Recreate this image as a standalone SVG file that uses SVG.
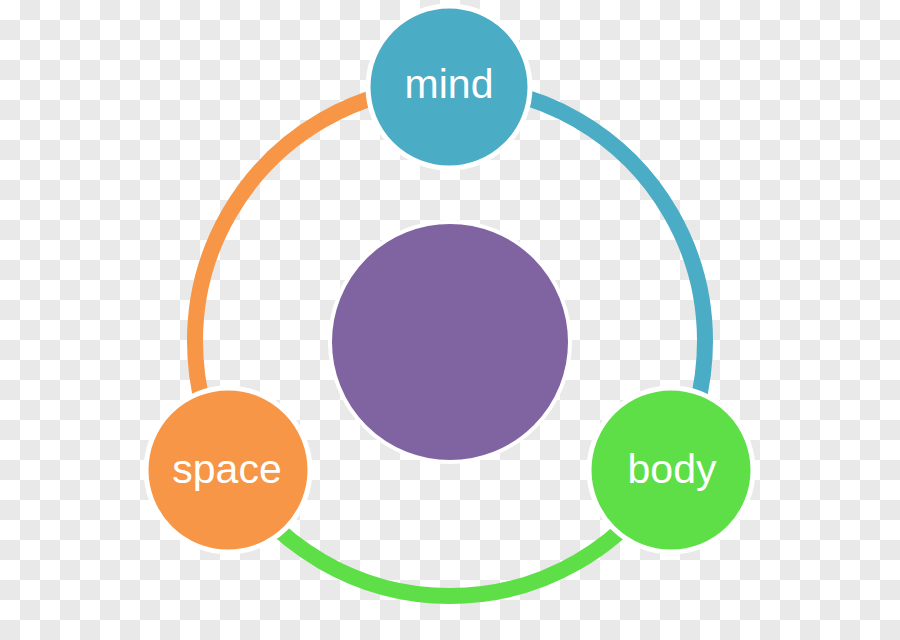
<svg xmlns="http://www.w3.org/2000/svg" width="900" height="640" viewBox="0 0 900 640">
  <defs>
    <pattern id="checker" x="0" y="0" width="40" height="40" patternUnits="userSpaceOnUse">
      <rect width="40" height="40" fill="#ffffff"/>
      <rect x="20" y="0" width="20" height="20" fill="#e9e9e9"/>
      <rect x="0" y="20" width="20" height="20" fill="#e9e9e9"/>
    </pattern>
  </defs>
  <style>
    .arc { fill: none; stroke-width: 16; }
    .node { stroke: #ffffff; stroke-width: 5; }
    .label { font-family: "Liberation Sans", Arial, sans-serif; font-size: 41px; fill: #ffffff; text-anchor: middle; }
  </style>
  <rect width="900" height="640" fill="url(#checker)"/>
  <g id="connectors">
    <path class="arc" stroke="#F79646" d="M 450 86 A 255 255 0 0 0 229.16 468.5"/>
    <path class="arc" stroke="#4BACC6" d="M 450 86 A 255 255 0 0 1 670.84 468.5"/>
    <path class="arc" stroke="#5EDF48" d="M 670.84 468.5 A 255 255 0 0 1 229.16 468.5"/>
  </g>
  <g id="center">
    <circle cx="450" cy="342" r="120" fill="#8064A2" stroke="#ffffff" stroke-width="4"/>
  </g>
  <g id="mind">
    <circle class="node" cx="449" cy="87" r="81" fill="#4BACC6"/>
    <text class="label" x="449" y="98">mind</text>
  </g>
  <g id="space">
    <circle class="node" cx="228" cy="470" r="82" fill="#F79646"/>
    <text class="label" x="227" y="483">space</text>
  </g>
  <g id="body">
    <circle class="node" cx="671" cy="470" r="82" fill="#5EDF48"/>
    <text class="label" x="672" y="483">body</text>
  </g>
</svg>
